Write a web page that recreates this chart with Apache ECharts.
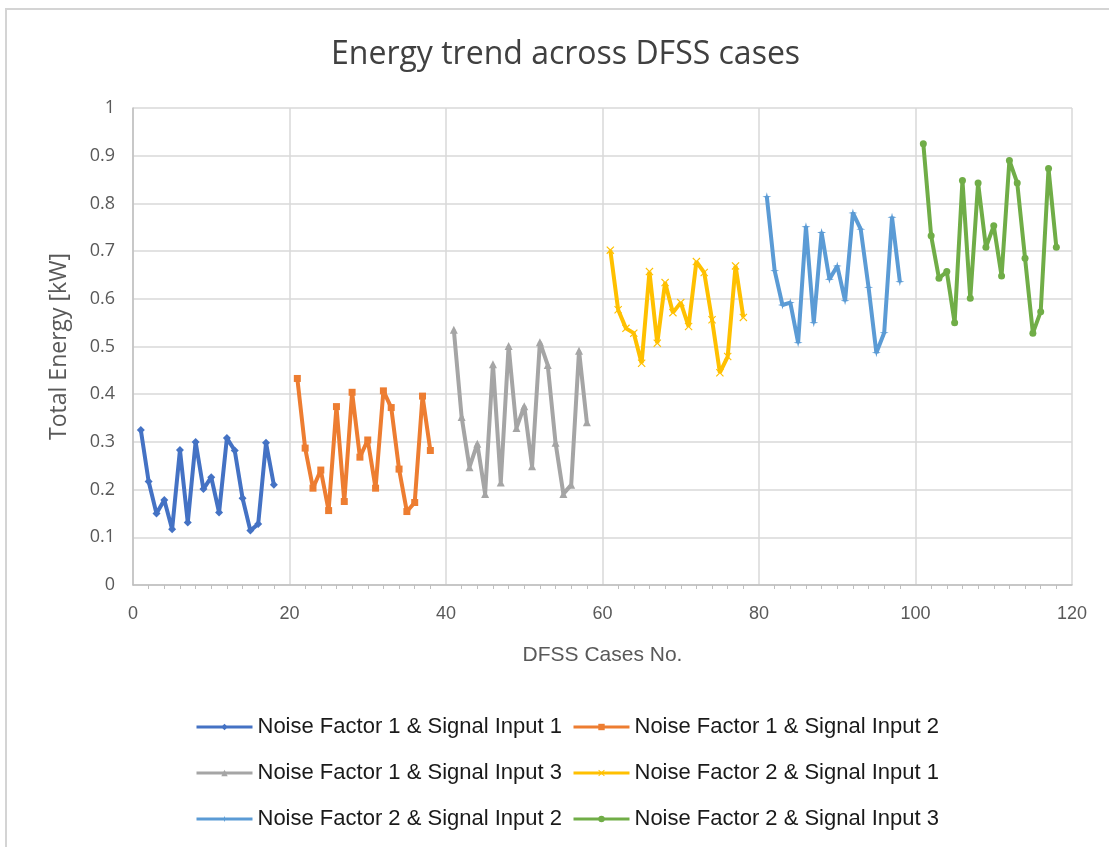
<!DOCTYPE html>
<html>
<head>
<meta charset="utf-8">
<script src="https://cdn.jsdelivr.net/npm/echarts@6/dist/echarts.min.js"></script>
<style>
  html, body { margin: 0; padding: 0; background: #fff; }
  #frame { position: absolute; left: 5px; top: 8px; width: 1104px; height: 839px;
           border-top: 2px solid #d4d4d4; border-left: 2px solid #d4d4d4; box-sizing: border-box; }
  #chart { position: absolute; left: 0; top: 0; width: 1109px; height: 847px; }
</style>
</head>
<body>
<div id="frame"></div>
<div id="chart"></div>
<script>
// Case numbers for each noise/signal group
const casesNF1S1 = [1,2,3,4,5,6,7,8,9,10,11,12,13,14,15,16,17,18];
const casesNF1S2 = [21,22,23,24,25,26,27,28,29,30,31,32,33,34,35,36,37,38];
const casesNF1S3 = [41,42,43,44,45,46,47,48,49,50,51,52,53,54,55,56,57,58];
const casesNF2S1 = [61,62,63,64,65,66,67,68,69,70,71,72,73,74,75,76,77,78];
const casesNF2S2 = [81,82,83,84,85,86,87,88,89,90,91,92,93,94,95,96,97,98];
const casesNF2S3 = [101,102,103,104,105,106,107,108,109,110,111,112,113,114,115,116,117,118];

// Total energy [kW] per case
const energyNF1S1 = [0.325,0.217,0.150,0.178,0.117,0.283,0.131,0.300,0.201,0.226,0.152,0.308,0.282,0.182,0.114,0.128,0.298,0.210];
const energyNF1S2 = [0.433,0.287,0.203,0.241,0.156,0.374,0.175,0.404,0.268,0.304,0.203,0.407,0.372,0.243,0.154,0.173,0.396,0.282];
const energyNF1S3 = [0.535,0.352,0.247,0.296,0.191,0.463,0.215,0.501,0.329,0.375,0.249,0.509,0.461,0.298,0.191,0.210,0.491,0.341];
const energyNF2S1 = [0.702,0.577,0.538,0.528,0.465,0.657,0.507,0.634,0.571,0.592,0.542,0.678,0.655,0.556,0.445,0.479,0.669,0.561];
const energyNF2S2 = [0.814,0.659,0.587,0.592,0.508,0.751,0.550,0.739,0.641,0.669,0.596,0.780,0.746,0.624,0.487,0.529,0.771,0.636];
const energyNF2S3 = [0.925,0.732,0.643,0.657,0.550,0.848,0.601,0.843,0.708,0.753,0.648,0.890,0.843,0.685,0.528,0.573,0.873,0.708];

const seriesNames = [
  'Noise Factor 1 & Signal Input 1',
  'Noise Factor 1 & Signal Input 2',
  'Noise Factor 1 & Signal Input 3',
  'Noise Factor 2 & Signal Input 1',
  'Noise Factor 2 & Signal Input 2',
  'Noise Factor 2 & Signal Input 3'
];

const colors = ['#4472C4', '#ED7D31', '#A5A5A5', '#FFC000', '#5B9BD5', '#70AD47'];
const starPath = 'path://M5,0L6,4L10,5L6,6L5,10L4,6L0,5L4,4Z';
const crossPath = 'path://M0,1L1,0L5,4L9,0L10,1L6,5L10,9L9,10L5,6L1,10L0,9L4,5Z';
const symbols = ['diamond', 'rect', 'triangle', crossPath, starPath, 'circle'];
const sizes = [8, 7, 8, 8, 9, 7];

const casesAll = [casesNF1S1, casesNF1S2, casesNF1S3, casesNF2S1, casesNF2S2, casesNF2S3];
const energyAll = [energyNF1S1, energyNF1S2, energyNF1S3, energyNF2S1, energyNF2S2, energyNF2S3];

const series = seriesNames.map((name, i) => ({
  name: name,
  type: 'line',
  data: casesAll[i].map((c, k) => [c, energyAll[i][k]]),
  symbol: symbols[i],
  symbolSize: sizes[i],
  showAllSymbol: true,
  lineStyle: { color: colors[i], width: 4 },
  itemStyle: { color: colors[i] },
  emphasis: { disabled: true }
}));

const textColor = '#595959';
const fontFam = '"Liberation Sans", sans-serif';

function legendRow(names, top) {
  return {
    data: names,
    top: top,
    left: 190,
    itemWidth: 56,
    itemHeight: 8,
    itemGap: 10,
    itemStyle: { borderWidth: 0 },
    lineStyle: { width: 3 },
    textStyle: { color: '#1a1a1a', fontSize: 22, fontFamily: fontFam },
    selectedMode: false
  };
}

const chart = echarts.init(document.getElementById('chart'), null, { renderer: 'canvas' });
chart.setOption({
  backgroundColor: 'transparent',
  animation: false,
  color: colors,
  title: {
    text: 'Energy trend across DFSS cases',
    left: 326,
    top: 34,
    textStyle: { color: '#404040', fontSize: 32, fontWeight: 'normal', fontFamily: '"Open Sans", sans-serif' }
  },
  legend: [
    legendRow([seriesNames[0], seriesNames[1]], 711),
    legendRow([seriesNames[2], seriesNames[3]], 757),
    legendRow([seriesNames[4], seriesNames[5]], 803)
  ],
  grid: { left: 133, right: 37, top: 108, bottom: 262, containLabel: false },
  xAxis: {
    type: 'value',
    min: 0, max: 120, interval: 20,
    name: 'DFSS Cases No.',
    nameLocation: 'middle',
    nameGap: 60,
    nameTextStyle: { color: textColor, fontSize: 21, fontFamily: fontFam },
    axisLine: { show: true, lineStyle: { color: '#bfbfbf', width: 1.5 } },
    axisTick: { show: false },
    minorTick: { show: true, splitNumber: 10, length: 4, lineStyle: { color: '#bfbfbf' } },
    axisLabel: { color: textColor, fontSize: 18, margin: 20, fontFamily: fontFam },
    splitLine: { show: true, lineStyle: { color: '#d9d9d9', width: 1.5 } }
  },
  yAxis: {
    type: 'value',
    min: 0, max: 1, interval: 0.1,
    name: 'Total Energy [kW]',
    nameLocation: 'middle',
    nameGap: 62,
    nameTextStyle: { color: textColor, fontSize: 23, fontFamily: '"Open Sans", sans-serif' },
    axisLine: { show: true, lineStyle: { color: '#bfbfbf', width: 1.5 } },
    axisTick: { show: false },
    axisLabel: { color: textColor, fontSize: 18, margin: 18, fontFamily: '"Open Sans", sans-serif',
                 formatter: v => String(Math.round(v * 10) / 10) },
    splitLine: { show: true, lineStyle: { color: '#d9d9d9', width: 1.5 } }
  },
  series: series
});
</script>
</body>
</html>
